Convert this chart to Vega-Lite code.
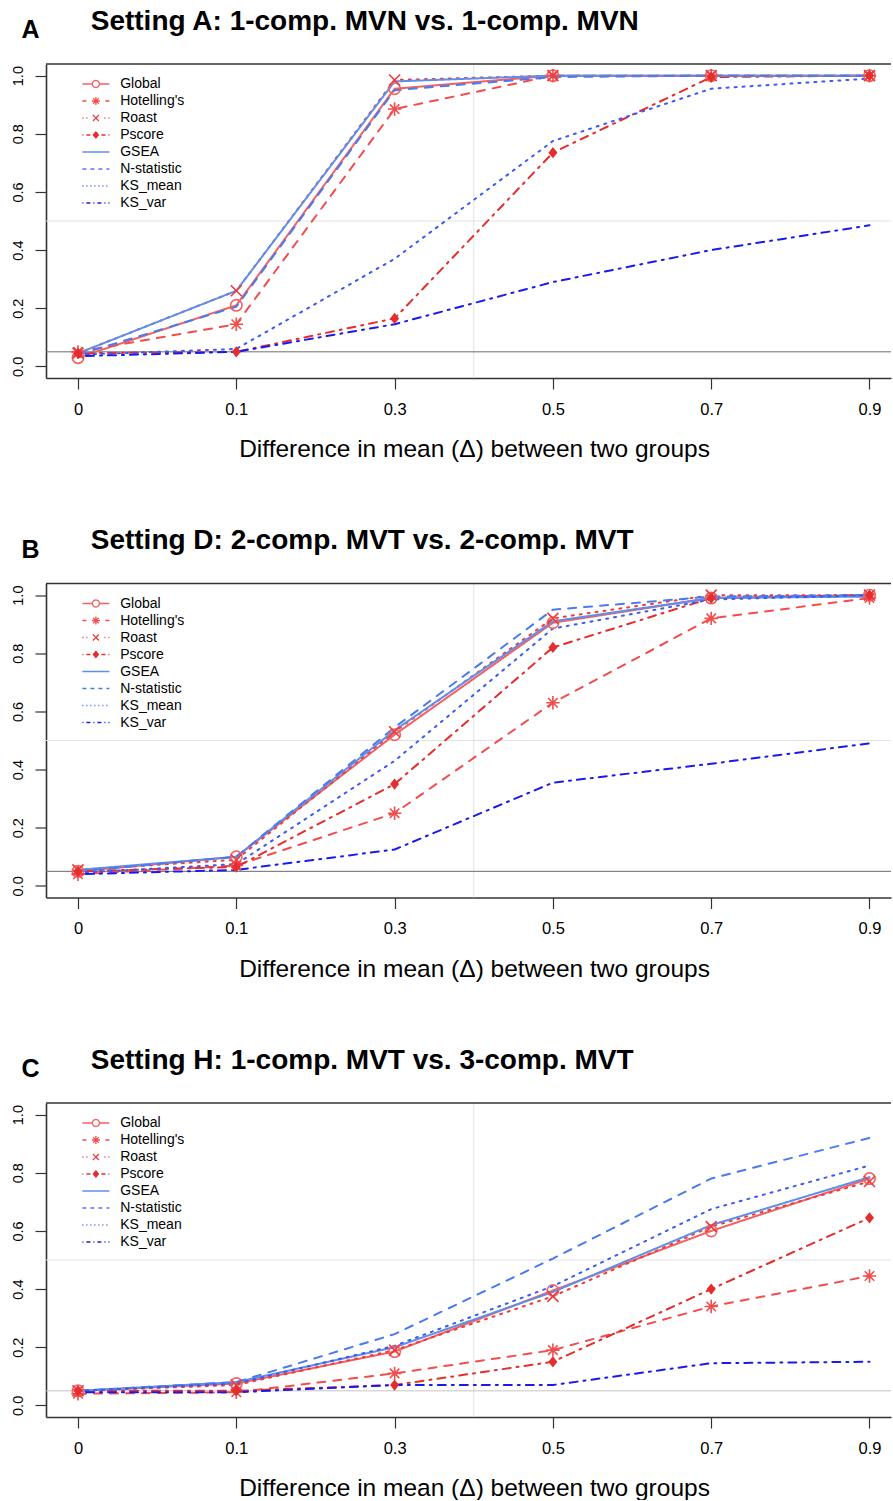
{
  "$schema": "https://vega.github.io/schema/vega-lite/v6.json",
  "padding": {"left": 10, "top": 7, "right": 0, "bottom": 0},
  "config": {
    "font": "Liberation Sans",
    "view": {"stroke": null},
    "axis": {"grid": false, "domainColor": "#333", "domainWidth": 1.6, "tickColor": "#333", "tickWidth": 1.2, "tickSize": 11, "labelColor": "#000", "titleColor": "#000", "labelFont": "Liberation Sans", "titleFont": "Liberation Sans"},
    "axisX": {"labelAngle": 0, "labelFontSize": 16.5, "labelPadding": 12, "titleFontSize": 24.5, "titleFontWeight": "normal", "titlePadding": 20, "titleX": 428},
    "axisY": {"labelAngle": -90, "labelAlign": "center", "labelBaseline": "bottom", "labelFontSize": 14.5, "labelPadding": 10, "labelFlush": false, "titleAngle": 0, "titleX": -25, "titleY": -26.3, "titleAlign": "left", "titleBaseline": "alphabetic", "titleFontSize": 25, "titleFontWeight": "bold"},
    "title": {"anchor": "start", "frame": "group", "dx": 44.7, "fontSize": 28, "fontWeight": "bold", "color": "#000", "font": "Liberation Sans", "offset": -18}
  },
  "data": {"values": [
    {"panel":"A","method":"Global","delta":0,"power":0.03},{"panel":"A","method":"Global","delta":0.1,"power":0.21},{"panel":"A","method":"Global","delta":0.3,"power":0.955},{"panel":"A","method":"Global","delta":0.5,"power":1.0},{"panel":"A","method":"Global","delta":0.7,"power":1.0},{"panel":"A","method":"Global","delta":0.9,"power":1.0},
    {"panel":"A","method":"Hotelling's","delta":0,"power":0.05},{"panel":"A","method":"Hotelling's","delta":0.1,"power":0.145},{"panel":"A","method":"Hotelling's","delta":0.3,"power":0.885},{"panel":"A","method":"Hotelling's","delta":0.5,"power":1.0},{"panel":"A","method":"Hotelling's","delta":0.7,"power":1.0},{"panel":"A","method":"Hotelling's","delta":0.9,"power":1.0},
    {"panel":"A","method":"Roast","delta":0,"power":0.045},{"panel":"A","method":"Roast","delta":0.1,"power":0.26},{"panel":"A","method":"Roast","delta":0.3,"power":0.985},{"panel":"A","method":"Roast","delta":0.5,"power":1.0},{"panel":"A","method":"Roast","delta":0.7,"power":1.0},{"panel":"A","method":"Roast","delta":0.9,"power":1.0},
    {"panel":"A","method":"Pscore","delta":0,"power":0.045},{"panel":"A","method":"Pscore","delta":0.1,"power":0.05},{"panel":"A","method":"Pscore","delta":0.3,"power":0.165},{"panel":"A","method":"Pscore","delta":0.5,"power":0.735},{"panel":"A","method":"Pscore","delta":0.7,"power":0.995},{"panel":"A","method":"Pscore","delta":0.9,"power":1.0},
    {"panel":"A","method":"GSEA","delta":0,"power":0.045},{"panel":"A","method":"GSEA","delta":0.1,"power":0.26},{"panel":"A","method":"GSEA","delta":0.3,"power":0.98},{"panel":"A","method":"GSEA","delta":0.5,"power":1.0},{"panel":"A","method":"GSEA","delta":0.7,"power":1.0},{"panel":"A","method":"GSEA","delta":0.9,"power":1.0},
    {"panel":"A","method":"N-statistic","delta":0,"power":0.04},{"panel":"A","method":"N-statistic","delta":0.1,"power":0.205},{"panel":"A","method":"N-statistic","delta":0.3,"power":0.95},{"panel":"A","method":"N-statistic","delta":0.5,"power":0.995},{"panel":"A","method":"N-statistic","delta":0.7,"power":1.0},{"panel":"A","method":"N-statistic","delta":0.9,"power":1.0},
    {"panel":"A","method":"KS_mean","delta":0,"power":0.04},{"panel":"A","method":"KS_mean","delta":0.1,"power":0.06},{"panel":"A","method":"KS_mean","delta":0.3,"power":0.37},{"panel":"A","method":"KS_mean","delta":0.5,"power":0.775},{"panel":"A","method":"KS_mean","delta":0.7,"power":0.955},{"panel":"A","method":"KS_mean","delta":0.9,"power":0.99},
    {"panel":"A","method":"KS_var","delta":0,"power":0.035},{"panel":"A","method":"KS_var","delta":0.1,"power":0.05},{"panel":"A","method":"KS_var","delta":0.3,"power":0.145},{"panel":"A","method":"KS_var","delta":0.5,"power":0.29},{"panel":"A","method":"KS_var","delta":0.7,"power":0.4},{"panel":"A","method":"KS_var","delta":0.9,"power":0.485},
    {"panel":"B","method":"Global","delta":0,"power":0.05},{"panel":"B","method":"Global","delta":0.1,"power":0.1},{"panel":"B","method":"Global","delta":0.3,"power":0.52},{"panel":"B","method":"Global","delta":0.5,"power":0.905},{"panel":"B","method":"Global","delta":0.7,"power":0.99},{"panel":"B","method":"Global","delta":0.9,"power":1.0},
    {"panel":"B","method":"Hotelling's","delta":0,"power":0.04},{"panel":"B","method":"Hotelling's","delta":0.1,"power":0.07},{"panel":"B","method":"Hotelling's","delta":0.3,"power":0.25},{"panel":"B","method":"Hotelling's","delta":0.5,"power":0.63},{"panel":"B","method":"Hotelling's","delta":0.7,"power":0.92},{"panel":"B","method":"Hotelling's","delta":0.9,"power":0.99},
    {"panel":"B","method":"Roast","delta":0,"power":0.055},{"panel":"B","method":"Roast","delta":0.1,"power":0.09},{"panel":"B","method":"Roast","delta":0.3,"power":0.53},{"panel":"B","method":"Roast","delta":0.5,"power":0.92},{"panel":"B","method":"Roast","delta":0.7,"power":1.0},{"panel":"B","method":"Roast","delta":0.9,"power":1.0},
    {"panel":"B","method":"Pscore","delta":0,"power":0.05},{"panel":"B","method":"Pscore","delta":0.1,"power":0.065},{"panel":"B","method":"Pscore","delta":0.3,"power":0.35},{"panel":"B","method":"Pscore","delta":0.5,"power":0.82},{"panel":"B","method":"Pscore","delta":0.7,"power":0.99},{"panel":"B","method":"Pscore","delta":0.9,"power":1.0},
    {"panel":"B","method":"GSEA","delta":0,"power":0.055},{"panel":"B","method":"GSEA","delta":0.1,"power":0.1},{"panel":"B","method":"GSEA","delta":0.3,"power":0.535},{"panel":"B","method":"GSEA","delta":0.5,"power":0.91},{"panel":"B","method":"GSEA","delta":0.7,"power":0.99},{"panel":"B","method":"GSEA","delta":0.9,"power":0.995},
    {"panel":"B","method":"N-statistic","delta":0,"power":0.05},{"panel":"B","method":"N-statistic","delta":0.1,"power":0.1},{"panel":"B","method":"N-statistic","delta":0.3,"power":0.545},{"panel":"B","method":"N-statistic","delta":0.5,"power":0.95},{"panel":"B","method":"N-statistic","delta":0.7,"power":0.995},{"panel":"B","method":"N-statistic","delta":0.9,"power":1.0},
    {"panel":"B","method":"KS_mean","delta":0,"power":0.045},{"panel":"B","method":"KS_mean","delta":0.1,"power":0.075},{"panel":"B","method":"KS_mean","delta":0.3,"power":0.43},{"panel":"B","method":"KS_mean","delta":0.5,"power":0.885},{"panel":"B","method":"KS_mean","delta":0.7,"power":0.985},{"panel":"B","method":"KS_mean","delta":0.9,"power":1.0},
    {"panel":"B","method":"KS_var","delta":0,"power":0.04},{"panel":"B","method":"KS_var","delta":0.1,"power":0.055},{"panel":"B","method":"KS_var","delta":0.3,"power":0.125},{"panel":"B","method":"KS_var","delta":0.5,"power":0.355},{"panel":"B","method":"KS_var","delta":0.7,"power":0.42},{"panel":"B","method":"KS_var","delta":0.9,"power":0.49},
    {"panel":"C","method":"Global","delta":0,"power":0.05},{"panel":"C","method":"Global","delta":0.1,"power":0.075},{"panel":"C","method":"Global","delta":0.3,"power":0.185},{"panel":"C","method":"Global","delta":0.5,"power":0.395},{"panel":"C","method":"Global","delta":0.7,"power":0.6},{"panel":"C","method":"Global","delta":0.9,"power":0.78},
    {"panel":"C","method":"Hotelling's","delta":0,"power":0.04},{"panel":"C","method":"Hotelling's","delta":0.1,"power":0.045},{"panel":"C","method":"Hotelling's","delta":0.3,"power":0.11},{"panel":"C","method":"Hotelling's","delta":0.5,"power":0.19},{"panel":"C","method":"Hotelling's","delta":0.7,"power":0.34},{"panel":"C","method":"Hotelling's","delta":0.9,"power":0.445},
    {"panel":"C","method":"Roast","delta":0,"power":0.05},{"panel":"C","method":"Roast","delta":0.1,"power":0.07},{"panel":"C","method":"Roast","delta":0.3,"power":0.19},{"panel":"C","method":"Roast","delta":0.5,"power":0.375},{"panel":"C","method":"Roast","delta":0.7,"power":0.615},{"panel":"C","method":"Roast","delta":0.9,"power":0.77},
    {"panel":"C","method":"Pscore","delta":0,"power":0.05},{"panel":"C","method":"Pscore","delta":0.1,"power":0.05},{"panel":"C","method":"Pscore","delta":0.3,"power":0.07},{"panel":"C","method":"Pscore","delta":0.5,"power":0.15},{"panel":"C","method":"Pscore","delta":0.7,"power":0.4},{"panel":"C","method":"Pscore","delta":0.9,"power":0.645},
    {"panel":"C","method":"GSEA","delta":0,"power":0.05},{"panel":"C","method":"GSEA","delta":0.1,"power":0.08},{"panel":"C","method":"GSEA","delta":0.3,"power":0.2},{"panel":"C","method":"GSEA","delta":0.5,"power":0.39},{"panel":"C","method":"GSEA","delta":0.7,"power":0.62},{"panel":"C","method":"GSEA","delta":0.9,"power":0.785},
    {"panel":"C","method":"N-statistic","delta":0,"power":0.05},{"panel":"C","method":"N-statistic","delta":0.1,"power":0.08},{"panel":"C","method":"N-statistic","delta":0.3,"power":0.245},{"panel":"C","method":"N-statistic","delta":0.5,"power":0.505},{"panel":"C","method":"N-statistic","delta":0.7,"power":0.78},{"panel":"C","method":"N-statistic","delta":0.9,"power":0.92},
    {"panel":"C","method":"KS_mean","delta":0,"power":0.05},{"panel":"C","method":"KS_mean","delta":0.1,"power":0.075},{"panel":"C","method":"KS_mean","delta":0.3,"power":0.205},{"panel":"C","method":"KS_mean","delta":0.5,"power":0.41},{"panel":"C","method":"KS_mean","delta":0.7,"power":0.675},{"panel":"C","method":"KS_mean","delta":0.9,"power":0.825},
    {"panel":"C","method":"KS_var","delta":0,"power":0.045},{"panel":"C","method":"KS_var","delta":0.1,"power":0.045},{"panel":"C","method":"KS_var","delta":0.3,"power":0.07},{"panel":"C","method":"KS_var","delta":0.5,"power":0.07},{"panel":"C","method":"KS_var","delta":0.7,"power":0.145},{"panel":"C","method":"KS_var","delta":0.9,"power":0.15}
  ]},
  "spacing": 65.5,
  "resolve": {"legend": {"color": "independent"}},
  "vconcat": [
    {
      "width": 845, "height": 314,
      "title": "Setting A: 1-comp. MVN vs. 1-comp. MVN",
      "transform": [{"filter": {"field": "panel", "equal": "A"}}],
      "layer": [
        {"data": {"values": [{}]}, "mark": {"type": "rule", "color": "#e2e2e2", "strokeWidth": 1}, "encoding": {"y": {"datum": 0.5, "type": "quantitative", "scale": {"domain": [-0.04, 1.04], "nice": false, "zero": false}, "axis": {"values": [0, 0.2, 0.4, 0.6, 0.8, 1], "format": ".1f", "title": "A"}}}},
        {"data": {"values": [{}]}, "mark": {"type": "rule", "color": "#e2e2e2", "strokeWidth": 1, "xOffset": 79.15}, "encoding": {"x": {"datum": 0.3, "type": "ordinal", "scale": {"type": "point", "padding": 0.169, "align": 0.598}, "axis": {"title": "Difference in mean (Δ) between two groups"}}}},
        {"data": {"values": [{}]}, "mark": {"type": "rule", "color": "#6a6a6a", "strokeWidth": 1}, "encoding": {"y": {"datum": 0.05, "type": "quantitative", "scale": {"domain": [-0.04, 1.04], "nice": false, "zero": false}, "axis": {"values": [0, 0.2, 0.4, 0.6, 0.8, 1], "format": ".1f", "title": "A"}}}},
        {"data": {"values": [{}]}, "mark": {"type": "rule", "color": "#333", "strokeWidth": 1.6}, "encoding": {"y": {"datum": 1.04, "type": "quantitative", "scale": {"domain": [-0.04, 1.04], "nice": false, "zero": false}, "axis": {"values": [0, 0.2, 0.4, 0.6, 0.8, 1], "format": ".1f", "title": "A"}}}},
        {"mark": {"type": "line", "strokeCap": "round", "strokeJoin": "round"},
         "encoding": {
           "x": {"field": "delta", "type": "ordinal", "scale": {"type": "point", "padding": 0.169, "align": 0.598}, "axis": {"title": "Difference in mean (Δ) between two groups"}},
           "y": {"field": "power", "type": "quantitative", "scale": {"domain": [-0.04, 1.04], "nice": false, "zero": false}, "axis": {"values": [0, 0.2, 0.4, 0.6, 0.8, 1], "format": ".1f", "title": "A"}},
           "color": {"field": "method", "type": "nominal", "scale": {"domain": ["Global", "Hotelling's", "Roast", "Pscore", "GSEA", "N-statistic", "KS_mean", "KS_var"], "range": ["#F26161", "#F24D4D", "#EF3B3B", "#E62C2C", "#5E8FEA", "#4B7AF0", "#3A5AF4", "#1A1AEE"]},
             "legend": {"orient": "none", "legendX": 33.4, "legendY": 13, "title": null, "padding": 0, "symbolSize": 64, "symbolStrokeWidth": 1.3, "labelFontSize": 14, "labelOffset": 26.8, "rowPadding": 3, "labelFont": "Liberation Sans", "labelColor": "#000",
               "encode": {"symbols": {"update": {
                 "shape": {"signal": "datum.value == 'Global' ? 'M-1,0H1.5M3.25,0H5.75M3.25,0A0.875,0.875,0,1,1,1.5,0A0.875,0.875,0,1,1,3.25,0' : datum.value == 'Roast' ? 'M-1,0H-0.75M0,0H0.25M4.5,0H4.75M5.5,0H5.75M1.625,-0.75L3.125,0.75M1.625,0.75L3.125,-0.75' : datum.value == 'Pscore' ? 'M-1,0H-0.75M0,0H1M3.75,0H4.75M5.5,0H5.75M2.375,-0.75L3,0L2.375,0.75L1.75,0Z' : datum.value == 'GSEA' ? 'M-1,0H5.75' : datum.value == 'N-statistic' ? 'M-1,0H0M1,0H2M3,0H4M5,0H5.75' : datum.value == 'KS_mean' ? 'M-1,0H-0.75M0,0H0.25M1,0H1.25M2,0H2.25M3,0H3.25M4,0H4.25M5,0H5.25' : datum.value == 'KS_var' ? 'M-1,0H-0.75M0,0H1M1.75,0H2M2.75,0H3.75M4.5,0H4.75M5.5,0H5.75' : 'M-1,0H0M4.75,0H5.75M2.375,-1V1M1.375,0H3.375M1.668,-0.707L3.082,0.707M1.668,0.707L3.082,-0.707'"},
                 "fill": {"signal": "datum.value == 'Pscore' ? '#E62C2C' : 'transparent'"},
                 "fillOpacity": {"signal": "datum.value == 'Pscore' ? 1 : 0"},
                 "stroke": {"signal": "datum.value == 'Global' ? '#F26161' : datum.value == 'Roast' ? '#EF3B3B' : datum.value == 'Pscore' ? '#E62C2C' : datum.value == 'GSEA' ? '#5E8FEA' : datum.value == 'N-statistic' ? '#4B7AF0' : datum.value == 'KS_mean' ? '#3A5AF4' : datum.value == 'KS_var' ? '#1A1AEE' : '#F24D4D'"},
                 "opacity": {"value": 1},
                 "strokeDash": {"value": [1, 0]}
               }}}}},
           "strokeDash": {"field": "method", "type": "nominal", "scale": {"domain": ["Global", "Hotelling's", "Roast", "Pscore", "GSEA", "N-statistic", "KS_mean", "KS_var"], "range": [[1, 0], [8, 8], [2, 6], [2, 6, 8, 6], [1, 0], [8, 8], [2, 6], [2, 6, 8, 6]]}, "legend": null},
           "strokeWidth": {"field": "method", "type": "ordinal", "scale": {"domain": ["Global", "Hotelling's", "Roast", "Pscore", "GSEA", "N-statistic", "KS_mean", "KS_var"], "range": [2, 2, 2, 2, 2, 2, 2, 2.8]}, "legend": null}
         }},
        {"transform": [{"filter": {"field": "method", "equal": "Global"}}], "mark": {"type": "point", "shape": "circle", "filled": false, "size": 130, "strokeWidth": 1.6, "opacity": 1},
         "encoding": {"x": {"field": "delta", "type": "ordinal", "scale": {"type": "point", "padding": 0.169, "align": 0.598}, "axis": {"title": "Difference in mean (Δ) between two groups"}}, "y": {"field": "power", "type": "quantitative", "scale": {"domain": [-0.04, 1.04], "nice": false, "zero": false}, "axis": {"values": [0, 0.2, 0.4, 0.6, 0.8, 1], "format": ".1f", "title": "A"}}, "color": {"field": "method", "type": "nominal"}}},
        {"transform": [{"filter": {"field": "method", "equal": "Hotelling's"}}], "mark": {"type": "point", "shape": "M0,-1V1M-1,0H1M-0.707,-0.707L0.707,0.707M-0.707,0.707L0.707,-0.707", "filled": false, "size": 180, "strokeWidth": 1.6, "opacity": 1},
         "encoding": {"x": {"field": "delta", "type": "ordinal", "scale": {"type": "point", "padding": 0.169, "align": 0.598}, "axis": {"title": "Difference in mean (Δ) between two groups"}}, "y": {"field": "power", "type": "quantitative", "scale": {"domain": [-0.04, 1.04], "nice": false, "zero": false}, "axis": {"values": [0, 0.2, 0.4, 0.6, 0.8, 1], "format": ".1f", "title": "A"}}, "color": {"field": "method", "type": "nominal"}}},
        {"transform": [{"filter": {"field": "method", "equal": "Roast"}}], "mark": {"type": "point", "shape": "M-1,-1L1,1M-1,1L1,-1", "filled": false, "size": 121, "strokeWidth": 1.6, "opacity": 1},
         "encoding": {"x": {"field": "delta", "type": "ordinal", "scale": {"type": "point", "padding": 0.169, "align": 0.598}, "axis": {"title": "Difference in mean (Δ) between two groups"}}, "y": {"field": "power", "type": "quantitative", "scale": {"domain": [-0.04, 1.04], "nice": false, "zero": false}, "axis": {"values": [0, 0.2, 0.4, 0.6, 0.8, 1], "format": ".1f", "title": "A"}}, "color": {"field": "method", "type": "nominal"}}},
        {"transform": [{"filter": {"field": "method", "equal": "Pscore"}}], "mark": {"type": "point", "shape": "M0,-1.25L1,0L0,1.25L-1,0Z", "filled": true, "size": 81, "opacity": 1},
         "encoding": {"x": {"field": "delta", "type": "ordinal", "scale": {"type": "point", "padding": 0.169, "align": 0.598}, "axis": {"title": "Difference in mean (Δ) between two groups"}}, "y": {"field": "power", "type": "quantitative", "scale": {"domain": [-0.04, 1.04], "nice": false, "zero": false}, "axis": {"values": [0, 0.2, 0.4, 0.6, 0.8, 1], "format": ".1f", "title": "A"}}, "color": {"field": "method", "type": "nominal"}}}
      ]
    },
    {
      "width": 845, "height": 314,
      "title": "Setting D: 2-comp. MVT vs. 2-comp. MVT",
      "transform": [{"filter": {"field": "panel", "equal": "B"}}],
      "layer": [
        {"data": {"values": [{}]}, "mark": {"type": "rule", "color": "#e2e2e2", "strokeWidth": 1}, "encoding": {"y": {"datum": 0.5, "type": "quantitative", "scale": {"domain": [-0.04, 1.04], "nice": false, "zero": false}, "axis": {"values": [0, 0.2, 0.4, 0.6, 0.8, 1], "format": ".1f", "title": "B"}}}},
        {"data": {"values": [{}]}, "mark": {"type": "rule", "color": "#e2e2e2", "strokeWidth": 1, "xOffset": 79.15}, "encoding": {"x": {"datum": 0.3, "type": "ordinal", "scale": {"type": "point", "padding": 0.169, "align": 0.598}, "axis": {"title": "Difference in mean (Δ) between two groups"}}}},
        {"data": {"values": [{}]}, "mark": {"type": "rule", "color": "#6a6a6a", "strokeWidth": 1}, "encoding": {"y": {"datum": 0.05, "type": "quantitative", "scale": {"domain": [-0.04, 1.04], "nice": false, "zero": false}, "axis": {"values": [0, 0.2, 0.4, 0.6, 0.8, 1], "format": ".1f", "title": "B"}}}},
        {"data": {"values": [{}]}, "mark": {"type": "rule", "color": "#333", "strokeWidth": 1.6}, "encoding": {"y": {"datum": 1.04, "type": "quantitative", "scale": {"domain": [-0.04, 1.04], "nice": false, "zero": false}, "axis": {"values": [0, 0.2, 0.4, 0.6, 0.8, 1], "format": ".1f", "title": "B"}}}},
        {"mark": {"type": "line", "strokeCap": "round", "strokeJoin": "round"},
         "encoding": {
           "x": {"field": "delta", "type": "ordinal", "scale": {"type": "point", "padding": 0.169, "align": 0.598}, "axis": {"title": "Difference in mean (Δ) between two groups"}},
           "y": {"field": "power", "type": "quantitative", "scale": {"domain": [-0.04, 1.04], "nice": false, "zero": false}, "axis": {"values": [0, 0.2, 0.4, 0.6, 0.8, 1], "format": ".1f", "title": "B"}},
           "color": {"field": "method", "type": "nominal", "scale": {"domain": ["Global", "Hotelling's", "Roast", "Pscore", "GSEA", "N-statistic", "KS_mean", "KS_var"], "range": ["#F26161", "#F24D4D", "#EF3B3B", "#E62C2C", "#5E8FEA", "#4B7AF0", "#3A5AF4", "#1A1AEE"]},
             "legend": {"orient": "none", "legendX": 33.4, "legendY": 13, "title": null, "padding": 0, "symbolSize": 64, "symbolStrokeWidth": 1.3, "labelFontSize": 14, "labelOffset": 26.8, "rowPadding": 3, "labelFont": "Liberation Sans", "labelColor": "#000",
               "encode": {"symbols": {"update": {
                 "shape": {"signal": "datum.value == 'Global' ? 'M-1,0H1.5M3.25,0H5.75M3.25,0A0.875,0.875,0,1,1,1.5,0A0.875,0.875,0,1,1,3.25,0' : datum.value == 'Roast' ? 'M-1,0H-0.75M0,0H0.25M4.5,0H4.75M5.5,0H5.75M1.625,-0.75L3.125,0.75M1.625,0.75L3.125,-0.75' : datum.value == 'Pscore' ? 'M-1,0H-0.75M0,0H1M3.75,0H4.75M5.5,0H5.75M2.375,-0.75L3,0L2.375,0.75L1.75,0Z' : datum.value == 'GSEA' ? 'M-1,0H5.75' : datum.value == 'N-statistic' ? 'M-1,0H0M1,0H2M3,0H4M5,0H5.75' : datum.value == 'KS_mean' ? 'M-1,0H-0.75M0,0H0.25M1,0H1.25M2,0H2.25M3,0H3.25M4,0H4.25M5,0H5.25' : datum.value == 'KS_var' ? 'M-1,0H-0.75M0,0H1M1.75,0H2M2.75,0H3.75M4.5,0H4.75M5.5,0H5.75' : 'M-1,0H0M4.75,0H5.75M2.375,-1V1M1.375,0H3.375M1.668,-0.707L3.082,0.707M1.668,0.707L3.082,-0.707'"},
                 "fill": {"signal": "datum.value == 'Pscore' ? '#E62C2C' : 'transparent'"},
                 "fillOpacity": {"signal": "datum.value == 'Pscore' ? 1 : 0"},
                 "stroke": {"signal": "datum.value == 'Global' ? '#F26161' : datum.value == 'Roast' ? '#EF3B3B' : datum.value == 'Pscore' ? '#E62C2C' : datum.value == 'GSEA' ? '#5E8FEA' : datum.value == 'N-statistic' ? '#4B7AF0' : datum.value == 'KS_mean' ? '#3A5AF4' : datum.value == 'KS_var' ? '#1A1AEE' : '#F24D4D'"},
                 "opacity": {"value": 1},
                 "strokeDash": {"value": [1, 0]}
               }}}}},
           "strokeDash": {"field": "method", "type": "nominal", "scale": {"domain": ["Global", "Hotelling's", "Roast", "Pscore", "GSEA", "N-statistic", "KS_mean", "KS_var"], "range": [[1, 0], [8, 8], [2, 6], [2, 6, 8, 6], [1, 0], [8, 8], [2, 6], [2, 6, 8, 6]]}, "legend": null},
           "strokeWidth": {"field": "method", "type": "ordinal", "scale": {"domain": ["Global", "Hotelling's", "Roast", "Pscore", "GSEA", "N-statistic", "KS_mean", "KS_var"], "range": [2, 2, 2, 2, 2, 2, 2, 2.8]}, "legend": null}
         }},
        {"transform": [{"filter": {"field": "method", "equal": "Global"}}], "mark": {"type": "point", "shape": "circle", "filled": false, "size": 130, "strokeWidth": 1.6, "opacity": 1},
         "encoding": {"x": {"field": "delta", "type": "ordinal", "scale": {"type": "point", "padding": 0.169, "align": 0.598}, "axis": {"title": "Difference in mean (Δ) between two groups"}}, "y": {"field": "power", "type": "quantitative", "scale": {"domain": [-0.04, 1.04], "nice": false, "zero": false}, "axis": {"values": [0, 0.2, 0.4, 0.6, 0.8, 1], "format": ".1f", "title": "B"}}, "color": {"field": "method", "type": "nominal"}}},
        {"transform": [{"filter": {"field": "method", "equal": "Hotelling's"}}], "mark": {"type": "point", "shape": "M0,-1V1M-1,0H1M-0.707,-0.707L0.707,0.707M-0.707,0.707L0.707,-0.707", "filled": false, "size": 180, "strokeWidth": 1.6, "opacity": 1},
         "encoding": {"x": {"field": "delta", "type": "ordinal", "scale": {"type": "point", "padding": 0.169, "align": 0.598}, "axis": {"title": "Difference in mean (Δ) between two groups"}}, "y": {"field": "power", "type": "quantitative", "scale": {"domain": [-0.04, 1.04], "nice": false, "zero": false}, "axis": {"values": [0, 0.2, 0.4, 0.6, 0.8, 1], "format": ".1f", "title": "B"}}, "color": {"field": "method", "type": "nominal"}}},
        {"transform": [{"filter": {"field": "method", "equal": "Roast"}}], "mark": {"type": "point", "shape": "M-1,-1L1,1M-1,1L1,-1", "filled": false, "size": 121, "strokeWidth": 1.6, "opacity": 1},
         "encoding": {"x": {"field": "delta", "type": "ordinal", "scale": {"type": "point", "padding": 0.169, "align": 0.598}, "axis": {"title": "Difference in mean (Δ) between two groups"}}, "y": {"field": "power", "type": "quantitative", "scale": {"domain": [-0.04, 1.04], "nice": false, "zero": false}, "axis": {"values": [0, 0.2, 0.4, 0.6, 0.8, 1], "format": ".1f", "title": "B"}}, "color": {"field": "method", "type": "nominal"}}},
        {"transform": [{"filter": {"field": "method", "equal": "Pscore"}}], "mark": {"type": "point", "shape": "M0,-1.25L1,0L0,1.25L-1,0Z", "filled": true, "size": 81, "opacity": 1},
         "encoding": {"x": {"field": "delta", "type": "ordinal", "scale": {"type": "point", "padding": 0.169, "align": 0.598}, "axis": {"title": "Difference in mean (Δ) between two groups"}}, "y": {"field": "power", "type": "quantitative", "scale": {"domain": [-0.04, 1.04], "nice": false, "zero": false}, "axis": {"values": [0, 0.2, 0.4, 0.6, 0.8, 1], "format": ".1f", "title": "B"}}, "color": {"field": "method", "type": "nominal"}}}
      ]
    },
    {
      "width": 845, "height": 314,
      "title": "Setting H: 1-comp. MVT vs. 3-comp. MVT",
      "transform": [{"filter": {"field": "panel", "equal": "C"}}],
      "layer": [
        {"data": {"values": [{}]}, "mark": {"type": "rule", "color": "#e2e2e2", "strokeWidth": 1}, "encoding": {"y": {"datum": 0.5, "type": "quantitative", "scale": {"domain": [-0.04, 1.04], "nice": false, "zero": false}, "axis": {"values": [0, 0.2, 0.4, 0.6, 0.8, 1], "format": ".1f", "title": "C"}}}},
        {"data": {"values": [{}]}, "mark": {"type": "rule", "color": "#e2e2e2", "strokeWidth": 1, "xOffset": 79.15}, "encoding": {"x": {"datum": 0.3, "type": "ordinal", "scale": {"type": "point", "padding": 0.169, "align": 0.598}, "axis": {"title": "Difference in mean (Δ) between two groups"}}}},
        {"data": {"values": [{}]}, "mark": {"type": "rule", "color": "#c4c4c4", "strokeWidth": 1}, "encoding": {"y": {"datum": 0.05, "type": "quantitative", "scale": {"domain": [-0.04, 1.04], "nice": false, "zero": false}, "axis": {"values": [0, 0.2, 0.4, 0.6, 0.8, 1], "format": ".1f", "title": "C"}}}},
        {"data": {"values": [{}]}, "mark": {"type": "rule", "color": "#333", "strokeWidth": 1.6}, "encoding": {"y": {"datum": 1.04, "type": "quantitative", "scale": {"domain": [-0.04, 1.04], "nice": false, "zero": false}, "axis": {"values": [0, 0.2, 0.4, 0.6, 0.8, 1], "format": ".1f", "title": "C"}}}},
        {"mark": {"type": "line", "strokeCap": "round", "strokeJoin": "round"},
         "encoding": {
           "x": {"field": "delta", "type": "ordinal", "scale": {"type": "point", "padding": 0.169, "align": 0.598}, "axis": {"title": "Difference in mean (Δ) between two groups"}},
           "y": {"field": "power", "type": "quantitative", "scale": {"domain": [-0.04, 1.04], "nice": false, "zero": false}, "axis": {"values": [0, 0.2, 0.4, 0.6, 0.8, 1], "format": ".1f", "title": "C"}},
           "color": {"field": "method", "type": "nominal", "scale": {"domain": ["Global", "Hotelling's", "Roast", "Pscore", "GSEA", "N-statistic", "KS_mean", "KS_var"], "range": ["#F26161", "#F24D4D", "#EF3B3B", "#E62C2C", "#5E8FEA", "#4B7AF0", "#3A5AF4", "#1A1AEE"]},
             "legend": {"orient": "none", "legendX": 33.4, "legendY": 13, "title": null, "padding": 0, "symbolSize": 64, "symbolStrokeWidth": 1.3, "labelFontSize": 14, "labelOffset": 26.8, "rowPadding": 3, "labelFont": "Liberation Sans", "labelColor": "#000",
               "encode": {"symbols": {"update": {
                 "shape": {"signal": "datum.value == 'Global' ? 'M-1,0H1.5M3.25,0H5.75M3.25,0A0.875,0.875,0,1,1,1.5,0A0.875,0.875,0,1,1,3.25,0' : datum.value == 'Roast' ? 'M-1,0H-0.75M0,0H0.25M4.5,0H4.75M5.5,0H5.75M1.625,-0.75L3.125,0.75M1.625,0.75L3.125,-0.75' : datum.value == 'Pscore' ? 'M-1,0H-0.75M0,0H1M3.75,0H4.75M5.5,0H5.75M2.375,-0.75L3,0L2.375,0.75L1.75,0Z' : datum.value == 'GSEA' ? 'M-1,0H5.75' : datum.value == 'N-statistic' ? 'M-1,0H0M1,0H2M3,0H4M5,0H5.75' : datum.value == 'KS_mean' ? 'M-1,0H-0.75M0,0H0.25M1,0H1.25M2,0H2.25M3,0H3.25M4,0H4.25M5,0H5.25' : datum.value == 'KS_var' ? 'M-1,0H-0.75M0,0H1M1.75,0H2M2.75,0H3.75M4.5,0H4.75M5.5,0H5.75' : 'M-1,0H0M4.75,0H5.75M2.375,-1V1M1.375,0H3.375M1.668,-0.707L3.082,0.707M1.668,0.707L3.082,-0.707'"},
                 "fill": {"signal": "datum.value == 'Pscore' ? '#E62C2C' : 'transparent'"},
                 "fillOpacity": {"signal": "datum.value == 'Pscore' ? 1 : 0"},
                 "stroke": {"signal": "datum.value == 'Global' ? '#F26161' : datum.value == 'Roast' ? '#EF3B3B' : datum.value == 'Pscore' ? '#E62C2C' : datum.value == 'GSEA' ? '#5E8FEA' : datum.value == 'N-statistic' ? '#4B7AF0' : datum.value == 'KS_mean' ? '#3A5AF4' : datum.value == 'KS_var' ? '#1A1AEE' : '#F24D4D'"},
                 "opacity": {"value": 1},
                 "strokeDash": {"value": [1, 0]}
               }}}}},
           "strokeDash": {"field": "method", "type": "nominal", "scale": {"domain": ["Global", "Hotelling's", "Roast", "Pscore", "GSEA", "N-statistic", "KS_mean", "KS_var"], "range": [[1, 0], [8, 8], [2, 6], [2, 6, 8, 6], [1, 0], [8, 8], [2, 6], [2, 6, 8, 6]]}, "legend": null},
           "strokeWidth": {"field": "method", "type": "ordinal", "scale": {"domain": ["Global", "Hotelling's", "Roast", "Pscore", "GSEA", "N-statistic", "KS_mean", "KS_var"], "range": [2, 2, 2, 2, 2, 2, 2, 2.8]}, "legend": null}
         }},
        {"transform": [{"filter": {"field": "method", "equal": "Global"}}], "mark": {"type": "point", "shape": "circle", "filled": false, "size": 130, "strokeWidth": 1.6, "opacity": 1},
         "encoding": {"x": {"field": "delta", "type": "ordinal", "scale": {"type": "point", "padding": 0.169, "align": 0.598}, "axis": {"title": "Difference in mean (Δ) between two groups"}}, "y": {"field": "power", "type": "quantitative", "scale": {"domain": [-0.04, 1.04], "nice": false, "zero": false}, "axis": {"values": [0, 0.2, 0.4, 0.6, 0.8, 1], "format": ".1f", "title": "C"}}, "color": {"field": "method", "type": "nominal"}}},
        {"transform": [{"filter": {"field": "method", "equal": "Hotelling's"}}], "mark": {"type": "point", "shape": "M0,-1V1M-1,0H1M-0.707,-0.707L0.707,0.707M-0.707,0.707L0.707,-0.707", "filled": false, "size": 180, "strokeWidth": 1.6, "opacity": 1},
         "encoding": {"x": {"field": "delta", "type": "ordinal", "scale": {"type": "point", "padding": 0.169, "align": 0.598}, "axis": {"title": "Difference in mean (Δ) between two groups"}}, "y": {"field": "power", "type": "quantitative", "scale": {"domain": [-0.04, 1.04], "nice": false, "zero": false}, "axis": {"values": [0, 0.2, 0.4, 0.6, 0.8, 1], "format": ".1f", "title": "C"}}, "color": {"field": "method", "type": "nominal"}}},
        {"transform": [{"filter": {"field": "method", "equal": "Roast"}}], "mark": {"type": "point", "shape": "M-1,-1L1,1M-1,1L1,-1", "filled": false, "size": 121, "strokeWidth": 1.6, "opacity": 1},
         "encoding": {"x": {"field": "delta", "type": "ordinal", "scale": {"type": "point", "padding": 0.169, "align": 0.598}, "axis": {"title": "Difference in mean (Δ) between two groups"}}, "y": {"field": "power", "type": "quantitative", "scale": {"domain": [-0.04, 1.04], "nice": false, "zero": false}, "axis": {"values": [0, 0.2, 0.4, 0.6, 0.8, 1], "format": ".1f", "title": "C"}}, "color": {"field": "method", "type": "nominal"}}},
        {"transform": [{"filter": {"field": "method", "equal": "Pscore"}}], "mark": {"type": "point", "shape": "M0,-1.25L1,0L0,1.25L-1,0Z", "filled": true, "size": 81, "opacity": 1},
         "encoding": {"x": {"field": "delta", "type": "ordinal", "scale": {"type": "point", "padding": 0.169, "align": 0.598}, "axis": {"title": "Difference in mean (Δ) between two groups"}}, "y": {"field": "power", "type": "quantitative", "scale": {"domain": [-0.04, 1.04], "nice": false, "zero": false}, "axis": {"values": [0, 0.2, 0.4, 0.6, 0.8, 1], "format": ".1f", "title": "C"}}, "color": {"field": "method", "type": "nominal"}}}
      ]
    }
  ]
}
